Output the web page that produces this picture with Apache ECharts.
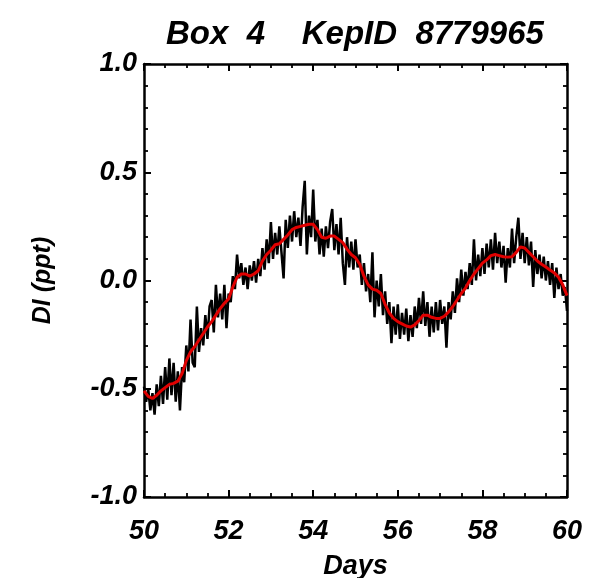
<!DOCTYPE html>
<html>
<head>
<meta charset="utf-8">
<script src="https://cdn.jsdelivr.net/npm/echarts@6/dist/echarts.min.js"></script>
<style>
  html, body { margin: 0; padding: 0; background: #fff; }
  #chart { width: 609px; height: 578px; }
</style>
</head>
<body>
<div id="chart"></div>
<script>
// Light curve of KepID 8779965 (box 4), days 50-60, relative flux in ppt.
const titleText = 'Box  4    KepID  8779965';
const xTickDays = [50, 52, 54, 56, 58, 60];
const yTickValues = [-1.0, -0.5, 0.0, 0.5, 1.0];

// Raw photometry, sampled every 0.05 d starting at day 50.
const rawStart = 50;
const rawStep = 0.05;
const rawFlux = [
  -0.49, -0.56, -0.50, -0.60, -0.52, -0.62, -0.48, -0.58, -0.44, -0.57,
  -0.40, -0.55, -0.36, -0.53, -0.38, -0.56, -0.42, -0.60, -0.40, -0.47,
  -0.30, -0.42, -0.18, -0.38, -0.40, -0.12, -0.33, -0.22, -0.30, -0.16,
  -0.27, -0.12, -0.09, -0.24, -0.02, -0.17, -0.06, -0.18, -0.02, -0.22,
  -0.06, -0.10, 0.02, -0.04, 0.12, 0.01, 0.08, -0.02, 0.06, -0.04,
  0.07, 0.00, 0.09, -0.01, 0.10, 0.02, 0.15, 0.05, 0.19, 0.08,
  0.27, 0.10, 0.22, 0.12, 0.25, 0.13, 0.01, 0.28, 0.15, 0.30,
  0.18, 0.32, 0.20, 0.29, 0.16, 0.34, 0.46, 0.12, 0.30, 0.20,
  0.42, 0.18, 0.28, 0.12, 0.24, 0.11, 0.25, 0.15, 0.27, 0.33,
  0.14, 0.26, 0.12, 0.29, 0.08, -0.02, 0.20, 0.06, 0.18, 0.05,
  0.19, 0.06, 0.12, -0.02, 0.08, -0.05, 0.03, -0.10, 0.13, -0.17,
  0.00, -0.12, 0.03, -0.16, -0.05, -0.20, -0.10, -0.29, -0.12, -0.25,
  -0.11, -0.27, -0.15, -0.25, -0.13, -0.28, -0.16, -0.26, -0.12, -0.22,
  -0.08, -0.20, -0.05, -0.21, -0.10, -0.26, -0.12, -0.24, -0.10, -0.23,
  -0.09, -0.20, -0.12, -0.31, -0.10, -0.18, -0.05, -0.15, 0.01, -0.10,
  0.05, -0.07, 0.04, -0.04, 0.08, -0.02, 0.19, 0.00, 0.12, 0.02,
  0.15, 0.03, 0.17, 0.06, 0.19, 0.05, 0.22, 0.08, 0.18, 0.06,
  0.16, -0.01, 0.15, 0.06, 0.24, 0.08, 0.20, 0.29, 0.10, 0.22,
  0.08, 0.20, 0.07, 0.18, -0.03, 0.14, 0.03, 0.12, 0.01, 0.11,
  0.00, 0.09, -0.02, 0.08, -0.08, 0.06, -0.04, 0.03, -0.07, -0.03,
  -0.14
];

// Smoothed curve, every 0.1 d from day 50.
const smoothStart = 50;
const smoothStep = 0.1;
const smoothFlux = [
  -0.51, -0.535, -0.545, -0.53, -0.51, -0.495, -0.48, -0.475, -0.465, -0.43,
  -0.37, -0.33, -0.305, -0.275, -0.245, -0.215, -0.19, -0.16, -0.13, -0.105,
  -0.085, -0.03, 0.015, 0.03, 0.03, 0.02, 0.03, 0.045, 0.09, 0.12,
  0.14, 0.165, 0.17, 0.19, 0.21, 0.235, 0.245, 0.25, 0.255, 0.26,
  0.26, 0.235, 0.20, 0.195, 0.205, 0.205, 0.19, 0.175, 0.145, 0.12,
  0.105, 0.075, 0.02, -0.02, -0.04, -0.045, -0.06, -0.11, -0.15, -0.175,
  -0.19, -0.20, -0.21, -0.215, -0.205, -0.185, -0.16, -0.16, -0.17, -0.175,
  -0.175, -0.165, -0.145, -0.12, -0.09, -0.06, -0.035, 0.0, 0.03, 0.055,
  0.08, 0.095, 0.115, 0.12, 0.115, 0.11, 0.108, 0.11, 0.13, 0.155,
  0.15, 0.13, 0.11, 0.09, 0.075, 0.062, 0.048, 0.035, 0.015, -0.02,
  -0.07
];

const toPairs = (start, step, values) =>
  values.map((v, i) => [+(start + i * step).toFixed(3), v]);

const FONT = '"Liberation Sans", Arial, Helvetica, sans-serif';
const labelStyle = {
  fontFamily: FONT, fontStyle: 'italic', fontWeight: 'bold',
  fontSize: 27, color: '#000'
};

const chart = echarts.init(document.getElementById('chart'), null, { renderer: 'canvas' });

const frameLine = { show: true, onZero: false, lineStyle: { color: '#000', width: 2.5 } };
const majorTick = { show: true, inside: true, length: 7, lineStyle: { color: '#000', width: 2 } };
const minorTick = { show: true, length: 4, lineStyle: { color: '#000', width: 1.8 } };

chart.setOption({
  animation: false,
  backgroundColor: '#fff',
  title: {
    text: titleText,
    left: 161,
    top: 13,
    textStyle: Object.assign({}, labelStyle, { fontSize: 33 })
  },
  grid: { left: 144, right: 42, top: 64, bottom: 81, containLabel: false, outerBoundsMode: 'none' },
  xAxis: [
    {
      type: 'value', min: 50, max: 60, interval: 2,
      position: 'bottom',
      axisLine: frameLine, axisTick: majorTick,
      minorTick: Object.assign({ splitNumber: 4 }, minorTick),
      splitLine: { show: false }, minorSplitLine: { show: false },
      axisLabel: Object.assign({ margin: 21, formatter: v => xTickDays.includes(v) ? String(v) : '' }, labelStyle),
      name: 'Days', nameLocation: 'middle', nameGap: 56,
      nameTextStyle: labelStyle
    },
    {
      type: 'value', min: 50, max: 60, interval: 2,
      position: 'top',
      axisLine: frameLine, axisTick: majorTick,
      minorTick: Object.assign({ splitNumber: 4 }, minorTick),
      splitLine: { show: false }, axisLabel: { show: false }
    }
  ],
  yAxis: [
    {
      type: 'value', min: -1, max: 1, interval: 0.5,
      position: 'left',
      axisLine: frameLine, axisTick: majorTick,
      minorTick: Object.assign({ splitNumber: 5 }, minorTick),
      splitLine: { show: false }, minorSplitLine: { show: false },
      axisLabel: Object.assign({
        margin: 7,
        formatter: v => {
          const t = yTickValues.find(u => Math.abs(u - v) < 1e-9);
          return t === undefined ? '' : t.toFixed(1);
        }
      }, labelStyle),
      name: 'DI (ppt)', nameLocation: 'middle', nameGap: 88,
      nameTextStyle: Object.assign({}, labelStyle, { fontSize: 25 })
    },
    {
      type: 'value', min: -1, max: 1, interval: 0.5,
      position: 'right',
      axisLine: frameLine, axisTick: majorTick,
      minorTick: Object.assign({ splitNumber: 5 }, minorTick),
      splitLine: { show: false }, axisLabel: { show: false }
    }
  ],
  series: [
    {
      name: 'raw', type: 'line',
      xAxisIndex: 0, yAxisIndex: 0,
      data: toPairs(rawStart, rawStep, rawFlux),
      showSymbol: false, symbol: 'none',
      lineStyle: { color: '#000', width: 2.5 },
      z: 2
    },
    {
      name: 'smooth', type: 'line',
      xAxisIndex: 0, yAxisIndex: 0,
      data: toPairs(smoothStart, smoothStep, smoothFlux),
      showSymbol: false, symbol: 'none',
      lineStyle: { color: '#e00000', width: 3 },
      z: 3
    }
  ]
});
</script>
</body>
</html>
